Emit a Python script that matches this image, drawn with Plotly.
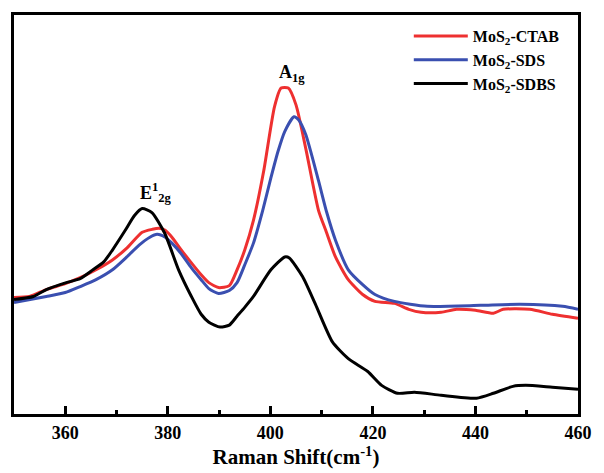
import plotly.graph_objects as go

# Raman shift (cm^-1) and intensity (a.u.)
ctab_x = [350, 353, 356.3, 360, 362.9, 366, 369.2, 372, 375, 377, 378.3, 379.5, 380.8, 382.5,
          384.6, 386.5, 388, 389.9, 392, 393.5, 395, 396.7, 398.7, 400.8, 402.1, 403.5, 405,
          406.9, 409.4, 410.8, 412.7, 415.2, 418, 420.4, 424.2, 427, 429.4, 433.3, 436.3, 440,
          443.5, 445.4, 450.6, 455, 460]
ctab_y = [118, 119, 126, 132, 138, 146, 156, 168, 184, 187, 188, 186, 179, 167,
          153, 141, 133, 128, 130, 146, 166, 196, 246, 311, 330, 330, 313,
          269, 206, 186, 159, 136, 121, 114, 112, 106, 103, 103, 106, 105,
          102, 106, 106, 101, 97]

sds_x = [350, 356.3, 360, 362.9, 366, 369.2, 372, 374.4, 376.5, 377.9, 379.5, 380.8, 382.5,
         384.6, 386.5, 388, 389.9, 392, 393.5, 395, 396.7, 398.5, 400.1, 401.5, 402.8, 404.6,
         405.5, 406.9, 409.4, 411, 412.7, 415.2, 418, 420.4, 424.2, 430.6, 441, 448.7, 457, 460]
sds_y = [113, 119, 123, 129, 136, 146, 159, 171, 179, 182, 179, 173, 163,
         148, 136, 127, 122, 125, 133, 151, 173, 206, 239, 266, 286, 301,
         298, 283, 236, 204, 176, 146, 131, 121, 114, 109, 110, 111, 109, 106]

sdbs_x = [350, 353.8, 356.3, 360.2, 362.9, 365.4, 367.5, 369.2, 371.7, 373.5, 375, 376.9,
          379.4, 382.1, 384.6, 386.5, 388, 390.2, 392, 393.5, 395, 396.7, 400.1, 402.8, 403.7,
          406.3, 408.8, 412.1, 415.2, 419, 421.7, 424.8, 428.1, 433.3, 440.2, 443.5, 447.3,
          449.8, 455, 460]
sdbs_y = [116, 119, 126, 133, 137, 146, 154, 166, 186, 201, 208, 204,
          183, 146, 119, 101, 93, 88, 90, 99, 108, 119, 146, 159, 158,
          139, 111, 73, 56, 43, 29, 21, 22, 19, 16, 21, 28,
          29, 27, 25]

x_ticks = [360, 380, 400, 420, 440, 460]

serif = "Liberation Serif, Times New Roman, serif"

fig = go.Figure()
fig.add_trace(go.Scatter(x=ctab_x, y=ctab_y, mode="lines", name="MoS<sub>2</sub>-CTAB",
                         line=dict(color="#EE3030", width=3, shape="spline", smoothing=0.6)))
fig.add_trace(go.Scatter(x=sds_x, y=sds_y, mode="lines", name="MoS<sub>2</sub>-SDS",
                         line=dict(color="#3A4FB0", width=3, shape="spline", smoothing=0.6)))
fig.add_trace(go.Scatter(x=sdbs_x, y=sdbs_y, mode="lines", name="MoS<sub>2</sub>-SDBS",
                         line=dict(color="#000000", width=3, shape="spline", smoothing=0.6)))

fig.add_annotation(x=377.6, y=224, text="E<sup>1</sup><sub>2g</sub>", showarrow=False,
                   font=dict(family=serif, size=18, color="black", weight="bold"))
fig.add_annotation(x=404.2, y=345, text="A<sub>1g</sub>", showarrow=False,
                   font=dict(family=serif, size=18, color="black", weight="bold"))

fig.update_layout(
    width=604, height=473,
    margin=dict(l=14, r=18, t=12, b=57),
    paper_bgcolor="white", plot_bgcolor="white",
    showlegend=True,
    legend=dict(x=0.7, y=0.99, xanchor="left", yanchor="top",
                bgcolor="rgba(0,0,0,0)", borderwidth=0,
                font=dict(family=serif, size=16, color="black", weight="bold"),
                tracegroupgap=0, itemwidth=54),
    font=dict(family=serif, color="black"),
)
fig.update_xaxes(range=[350, 460], tickvals=x_ticks,
                 showline=True, linewidth=3, linecolor="black", mirror=True,
                 ticks="inside", ticklen=8, tickwidth=2.5, tickcolor="black",
                 minor=dict(ticks="inside", ticklen=4, tickwidth=2.5, dtick=10, tickcolor="black"),
                 showgrid=False, zeroline=False,
                 tickfont=dict(family=serif, size=18, color="black", weight="bold"),
                 title=dict(text="Raman Shift(cm<sup>-1</sup>)", standoff=4,
                            font=dict(family=serif, size=21, color="black", weight="bold")))
fig.update_yaxes(range=[0, 404], showline=True, linewidth=3, linecolor="black", mirror=True,
                 ticks="", showticklabels=False, showgrid=False, zeroline=False)

fig.write_html("out.html")
